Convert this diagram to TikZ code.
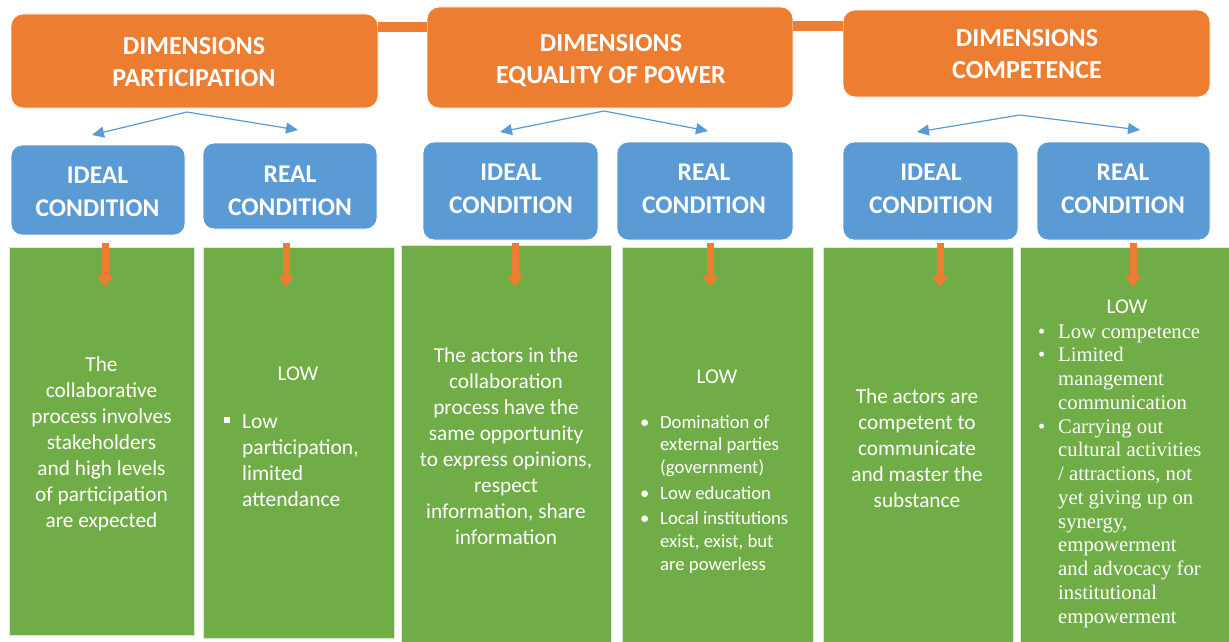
\documentclass[tikz,border=0pt]{standalone}
\usepackage{fontspec}
\setmainfont{Carlito}
\newfontfamily\serifb{Liberation Serif}
\usetikzlibrary{arrows.meta}
\definecolor{dorange}{HTML}{ED7D31}
\definecolor{dblue}{HTML}{5B9BD5}
\definecolor{dgreen}{HTML}{70AD47}
\newcommand\mylines[1]{\begin{tabular}[t]{@{}c@{}}#1\end{tabular}}
\begin{document}
\begin{tikzpicture}[x=1pt,y=-1pt,
  obox/.style={fill=dorange,draw=white,line width=0.8pt,rounded corners=12pt,inner sep=0pt},
  bbox/.style={fill=dblue,draw=white,line width=0.8pt,rounded corners=11pt,inner sep=0pt},
  gbox/.style={fill=dgreen,draw=white!75!dgreen,line width=0.6pt,inner sep=0pt},
  htext/.style={text=white,font=\fontsize{26}{32}\bfseries\selectfont,inner sep=0pt,anchor=base},
  ctext/.style={text=white,font=\fontsize{25.5}{33.5}\bfseries\selectfont,inner sep=0pt,anchor=base},
  gtext/.style={text=white,font=\fontsize{21.3}{26}\selectfont,inner sep=0pt,anchor=base},
  obar/.style={draw=dorange,line width=10pt},
  barrow/.style={draw=dblue,line width=1.2pt,-{Triangle[length=12pt,width=11pt]}},
  oarrow/.style={draw=dorange,line width=7pt,-{Triangle[length=11pt,width=15pt]}}
]
\useasboundingbox (0,0) rectangle (1229,642);
\fill[white] (0,0) rectangle (1229,642);

% orange header boxes
\node[obox,minimum width=367pt,minimum height=94pt] (o1) at (194.5,61) {};
\node[obox,minimum width=366pt,minimum height=101pt] (o2) at (610,57.5) {};
\node[obox,minimum width=367pt,minimum height=87pt] (o3) at (1026.5,53.5) {};
\coordinate (c1) at (0,27);
\coordinate (c2) at (0,26);
\draw[obar] (o1.east |- c1) -- (o2.west |- c1);
\draw[obar] (o2.east |- c2) -- (o3.west |- c2);
\node[htext] (h1) at (194,55) {\mylines{DIMENSIONS\\PARTICIPATION}};
\node[htext] (h2) at (611,52) {\mylines{DIMENSIONS\\EQUALITY OF POWER}};
\node[htext] (h3) at (1027,47) {\mylines{DIMENSIONS\\COMPETENCE}};

% blue condition boxes
\node[bbox,minimum width=174pt,minimum height=90pt] (b1) at (98,190) {};
\node[bbox,minimum width=174pt,minimum height=86pt] (b2) at (290,186) {};
\node[bbox,minimum width=175pt,minimum height=98pt] (b3) at (510.5,191) {};
\node[bbox,minimum width=176pt,minimum height=98pt] (b4) at (705,191) {};
\node[bbox,minimum width=175pt,minimum height=98pt] (b5) at (930.5,191) {};
\node[bbox,minimum width=173pt,minimum height=98pt] (b6) at (1123.5,191) {};
\node[ctext] (l1) at (97.5,183) {\mylines{IDEAL\\CONDITION}};
\node[ctext] (l2) at (290,182) {\mylines{REAL\\CONDITION}};
\node[ctext] (l3) at (511,180) {\mylines{IDEAL\\CONDITION}};
\node[ctext] (l4) at (704,180) {\mylines{REAL\\CONDITION}};
\node[ctext] (l5) at (931,180) {\mylines{IDEAL\\CONDITION}};
\node[ctext] (l6) at (1123,180) {\mylines{REAL\\CONDITION}};

% blue arrows
\coordinate (p1) at (187,112); \coordinate (pl1) at (92,135); \coordinate (pr1) at (298,130);
\coordinate (p2) at (604,111); \coordinate (pl2) at (500,132); \coordinate (pr2) at (708,131);
\coordinate (p3) at (1020,115); \coordinate (pl3) at (917,132); \coordinate (pr3) at (1140,130);
\draw[barrow] (p1) -- (pl1); \draw[barrow] (p1) -- (pr1);
\draw[barrow] (p2) -- (pl2); \draw[barrow] (p2) -- (pr2);
\draw[barrow] (p3) -- (pl3); \draw[barrow] (p3) -- (pr3);

% green boxes
\node[gbox,minimum width=185pt,minimum height=388pt] (g1) at (101.5,441) {};
\node[gbox,minimum width=191pt,minimum height=391pt] (g2) at (298.5,442.5) {};
\node[gbox,minimum width=210pt,minimum height=397pt] (g3) at (506,443.5) {};
\node[gbox,minimum width=191pt,minimum height=395pt] (g4) at (717.5,444.5) {};
\node[gbox,minimum width=190pt,minimum height=395pt] (g5) at (918,444.5) {};
\node[gbox,minimum width=210pt,minimum height=395pt] (g6) at (1125,444.5) {};

% orange down arrows
\foreach \i/\x in {1/105,2/286,3/515,4/710,5/940,6/1133}{
  \coordinate (d\i s) at (\x,243);
  \coordinate (d\i e) at (\x,287);
  \draw[oarrow] (d\i s) -- (d\i e);
}

% green texts
\node[gtext] (t1) at (101.5,371) {\mylines{The\\collaborative\\process involves\\stakeholders\\and high levels\\of participation\\are expected}};

\node[gtext,font=\fontsize{21}{26}\selectfont] (low2) at (298,380) {LOW};
\node[gtext,anchor=base west,font=\fontsize{21.5}{26}\selectfont] (t2) at (224,428) {\begin{tabular}[t]{@{}p{18pt}@{}l@{}}
\rule[5pt]{6pt}{6pt} & Low\\
 & participation,\\
 & limited\\
 & attendance
\end{tabular}};

\node[gtext] (t3) at (506,362) {\mylines{The actors in the\\collaboration\\process have the\\same opportunity\\to express opinions,\\respect\\information, share\\information}};

\node[gtext,font=\fontsize{21}{26}\selectfont] (low4) at (717,383) {LOW};
\node[gtext,anchor=base west,font=\fontsize{18.7}{22.7}\selectfont] (t4) at (640,428) {\begin{tabular}[t]{@{}p{20pt}@{}l@{}}
\textbullet & Domination of\\
 & external parties\\
 & (government)\\[3pt]
\textbullet & Low education\\[3pt]
\textbullet & Local institutions\\
 & exist, exist, but\\
 & are powerless
\end{tabular}};

\node[gtext] (t5) at (917,403) {\mylines{The actors are\\competent to\\communicate\\and master the\\substance}};

\node[gtext,font=\fontsize{21}{26}\selectfont] (low6) at (1127,313) {LOW};
\node[gtext,anchor=base west,font=\serifb\fontsize{20.7}{23.75}\selectfont] (t6) at (1038,338) {\begin{tabular}[t]{@{}p{20pt}@{}l@{}}
\textbullet & Low competence\\
\textbullet & Limited\\
 & management\\
 & communication\\
\textbullet & Carrying out\\
 & cultural activities\\
 & / attractions, not\\
 & yet giving up on\\
 & synergy,\\
 & empowerment\\
 & and advocacy for\\
 & institutional\\
 & empowerment
\end{tabular}};
\end{tikzpicture}
\end{document}
